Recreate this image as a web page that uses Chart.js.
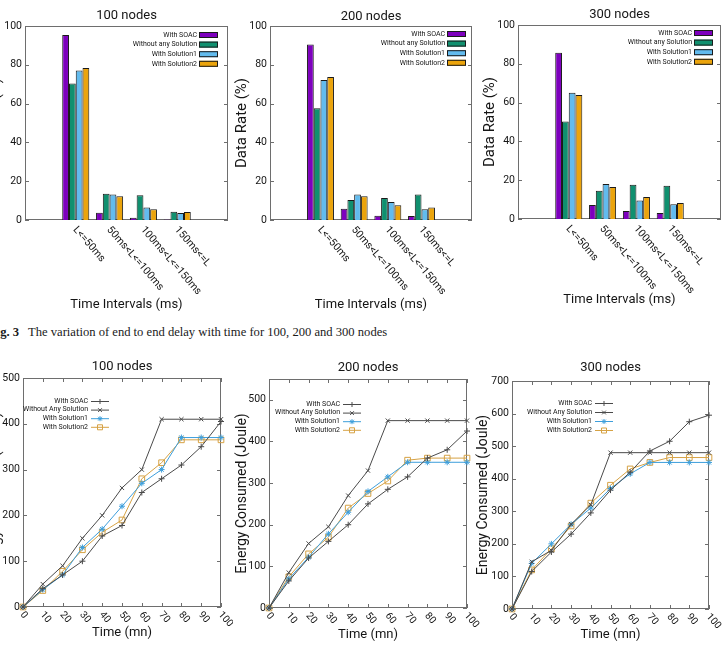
<!DOCTYPE html>
<html>
<head>
<meta charset="utf-8">
<script src="https://cdn.jsdelivr.net/npm/chart.js@4.4.1/dist/chart.umd.min.js"></script>
<style>
  html, body { margin: 0; padding: 0; background: #fff; }
  body { width: 722px; height: 649px; position: relative; overflow: hidden; }
  canvas { position: absolute; }
  .caption { position: absolute; left: -11px; top: 325px; font-family: "Liberation Serif", serif; font-size: 12.6px; color: #1a1a1a; white-space: nowrap; }
  .caption b { margin-right: 6px; }
</style>
</head>
<body>
<div class="caption"><b>Fig. 3</b> The variation of end to end delay with time for 100, 200 and 300 nodes</div>
<script>
// ---- data: delay distribution (bar charts) ----
const intervals = ['L<=50ms', '50ms<L<=100ms', '100ms<L<=150ms', '150ms<=L'];
const barNames = ['With SOAC', 'Without any Solution', 'With Solution1', 'With Solution2'];

const soacBar100 = [95.3, 3.8, 1.2, 0.3];
const noneBar100 = [70.4, 13.5, 12.8, 4.3];
const sol1Bar100 = [77.0, 13.2, 6.5, 3.6];
const sol2Bar100 = [78.4, 12.3, 5.6, 4.1];

const soacBar200 = [90.5, 5.8, 2.2, 2.1];
const noneBar200 = [57.6, 10.3, 11.3, 13.2];
const sol1Bar200 = [72.2, 13.1, 9.3, 5.5];
const sol2Bar200 = [73.7, 12.2, 7.6, 6.5];

const soacBar300 = [85.7, 7.2, 4.1, 3.1];
const noneBar300 = [50.2, 14.6, 17.7, 17.2];
const sol1Bar300 = [65.1, 18.0, 9.5, 7.6];
const sol2Bar300 = [63.9, 16.5, 11.3, 8.2];

// ---- data: energy consumed (line charts) ----
const timeMin = [0, 10, 20, 30, 40, 50, 60, 70, 80, 90, 100];
const lineNames = ['With SOAC', 'Without Any Solution', 'With Solution1', 'With Solution2'];

const soacLine100 = [0, 40, 70, 100, 155, 178, 250, 280, 310, 350, 405];
const noneLine100 = [0, 50, 90, 150, 200, 260, 300, 410, 410, 410, 410];
const sol1Line100 = [0, 38, 70, 130, 170, 220, 270, 300, 370, 370, 370];
const sol2Line100 = [0, 36, 78, 125, 163, 190, 280, 315, 365, 365, 365];

const soacLine200 = [0, 65, 120, 160, 200, 250, 285, 315, 360, 380, 425];
const noneLine200 = [0, 85, 155, 195, 270, 330, 450, 450, 450, 450, 450];
const sol1Line200 = [0, 70, 122, 178, 230, 280, 315, 350, 350, 350, 350];
const sol2Line200 = [0, 75, 130, 170, 240, 275, 305, 355, 360, 360, 360];

const soacLine300 = [0, 115, 175, 230, 295, 365, 420, 485, 515, 575, 595];
const noneLine300 = [0, 145, 180, 260, 320, 480, 480, 480, 480, 480, 480];
const sol1Line300 = [0, 140, 200, 260, 310, 370, 415, 450, 450, 450, 450];
const sol2Line300 = [0, 120, 185, 255, 325, 380, 430, 450, 465, 465, 465];

const barColors = ['#7d00bd', '#10906f', '#62bbee', '#eba40c'];
const lineColors = ['#4a4a4a', '#4a4a4a', '#3d9edb', '#d6a244'];
const lineMarkers = ['cross', 'crossRot', 'star', 'rect'];
const FONT = 'Roboto';
const INK = '#151515';

function drawMarker(ctx, style, x, y, r) {
  ctx.beginPath();
  if (style === 'cross' || style === 'star') {
    ctx.moveTo(x - r, y); ctx.lineTo(x + r, y);
    ctx.moveTo(x, y - r); ctx.lineTo(x, y + r);
  }
  if (style === 'crossRot' || style === 'star') {
    const d = r * 0.75;
    ctx.moveTo(x - d, y - d); ctx.lineTo(x + d, y + d);
    ctx.moveTo(x - d, y + d); ctx.lineTo(x + d, y - d);
  }
  if (style === 'rect') ctx.rect(x - r, y - r, 2 * r, 2 * r);
  ctx.stroke();
}

// frame, inward ticks, title, slanted x labels and legend
function deco(meta) {
  return {
    id: 'deco',
    beforeDatasetsDraw(chart) {
      const { ctx, chartArea: a, scales } = chart;
      ctx.save();
      ctx.strokeStyle = '#6e6e6e';
      ctx.lineWidth = 1;
      ctx.strokeRect(Math.round(a.left) + 0.5, Math.round(a.top) + 0.5, Math.round(a.width) - 1, Math.round(a.height) - 1);
      ctx.beginPath();
      scales.y.ticks.forEach(t => {
        const py = Math.round(scales.y.getPixelForValue(t.value)) + 0.5;
        ctx.moveTo(a.left, py); ctx.lineTo(a.left + 4, py);
        ctx.moveTo(a.right, py); ctx.lineTo(a.right - 4, py);
      });
      if (meta.kind === 'line') {
        timeMin.forEach(v => {
          const px = Math.round(scales.x.getPixelForValue(v)) + 0.5;
          ctx.moveTo(px, a.bottom); ctx.lineTo(px, a.bottom - 4);
          ctx.moveTo(px, a.top); ctx.lineTo(px, a.top + 4);
        });
      }
      ctx.stroke();
      ctx.restore();
    },
    afterDraw(chart) {
      const { ctx, chartArea: a, scales } = chart;
      ctx.save();
      ctx.fillStyle = INK;
      ctx.font = '13px ' + FONT;
      ctx.textAlign = 'center';
      ctx.textBaseline = 'middle';
      ctx.fillText(meta.title, (a.left + a.right) / 2, meta.titleY - meta.y);

      // slanted tick labels under the x axis
      const xl = meta.kind === 'bar' ? intervals : timeMin.map(String);
      ctx.font = (meta.kind === 'bar' ? '10.5px ' : '10px ') + FONT;
      ctx.textAlign = 'left';
      xl.forEach((lab, i) => {
        const v = meta.kind === 'bar' ? i : timeMin[i];
        const px = scales.x.getPixelForValue(v);
        ctx.save();
        ctx.translate(px - 1, a.bottom + (meta.kind === 'bar' ? 8 : 6));
        ctx.rotate(49 * Math.PI / 180);
        ctx.fillText(lab, 0, 0);
        ctx.restore();
      });

      // legend inside the plot
      const lg = meta.legend;
      ctx.font = '7px ' + FONT;
      ctx.textAlign = 'right';
      chart.data.datasets.forEach((ds, i) => {
        const ly = lg.y - meta.y + i * lg.step;
        const lx = lg.x - meta.x;
        ctx.fillStyle = INK;
        ctx.fillText(ds.label, lx, ly);
        if (meta.kind === 'bar') {
          ctx.fillStyle = ds.backgroundColor;
          ctx.fillRect(lx + 2, ly - 3, 19, 6);
          ctx.strokeStyle = '#1a1a1a';
          ctx.lineWidth = 1;
          ctx.strokeRect(lx + 2.5, ly - 2.5, 18, 5);
        } else {
          ctx.strokeStyle = ds.borderColor;
          ctx.lineWidth = 1;
          ctx.beginPath();
          ctx.moveTo(lx + 3, ly + 0.5); ctx.lineTo(lx + 21, ly + 0.5);
          ctx.stroke();
          drawMarker(ctx, ds.pointStyle, lx + 12, ly + 0.5, 2.5);
        }
      });
      ctx.restore();
    }
  };
}

function makeCanvas(meta) {
  const c = document.createElement('canvas');
  c.width = meta.w;
  c.height = meta.h;
  c.style.left = meta.x + 'px';
  c.style.top = meta.y + 'px';
  document.body.appendChild(c);
  return c;
}

function baseOptions(meta, xScale, yScale) {
  return {
    responsive: false,
    animation: false,
    devicePixelRatio: 1,
    layout: { padding: { top: meta.area.t - meta.y, right: meta.x + meta.w - meta.area.r, left: 0, bottom: 0 } },
    plugins: { legend: { display: false }, tooltip: { enabled: false } },
    scales: {
      x: Object.assign({
        type: 'linear',
        grid: { display: false, drawTicks: false },
        border: { display: false },
        afterFit: s => { s.height = meta.y + meta.h - meta.area.b; }
      }, xScale),
      y: Object.assign({
        min: 0,
        grid: { display: false, drawTicks: false },
        border: { display: false },
        afterFit: s => { s.width = meta.area.l - meta.x; }
      }, yScale)
    }
  };
}

function barChart(meta, series) {
  const canvas = makeCanvas(meta);
  new Chart(canvas, {
    type: 'bar',
    data: {
      datasets: series.map((vals, i) => ({
        label: barNames[i],
        data: vals.map((v, k) => ({ x: k, y: v })),
        backgroundColor: barColors[i],
        borderColor: '#1a1a1a',
        borderWidth: 1,
        categoryPercentage: 0.8,
        barPercentage: 1
      }))
    },
    options: baseOptions(meta,
      {
        min: -1, max: intervals.length,
        ticks: { display: false, stepSize: 1 },
        title: { display: true, text: 'Time Intervals (ms)', color: INK, font: { family: FONT, size: 13 }, padding: 0 }
      },
      {
        max: 100,
        ticks: { stepSize: 20, color: INK, padding: 3, font: { family: FONT, size: 10.5 } },
        title: { display: true, text: 'Data Rate (%)', color: INK, font: { family: FONT, size: 15 }, padding: 0 }
      }),
    plugins: [deco(meta)]
  });
}

function lineChart(meta, series, yMax) {
  const canvas = makeCanvas(meta);
  new Chart(canvas, {
    type: 'line',
    data: {
      datasets: series.map((vals, i) => ({
        label: lineNames[i],
        data: vals.map((v, k) => ({ x: timeMin[k], y: v })),
        borderColor: lineColors[i],
        backgroundColor: 'rgba(0,0,0,0)',
        borderWidth: 1,
        pointStyle: lineMarkers[i],
        pointRadius: lineMarkers[i] === 'rect' ? 4 : 3,
        pointBorderWidth: 1,
        pointBorderColor: lineColors[i],
        pointBackgroundColor: 'rgba(0,0,0,0)',
        tension: 0,
        fill: false,
        clip: false
      }))
    },
    options: baseOptions(meta,
      {
        min: 0, max: 100,
        ticks: { display: false, stepSize: 10 },
        title: { display: true, text: 'Time (mn)', color: INK, font: { family: FONT, size: 13 }, padding: 0 }
      },
      {
        max: yMax,
        ticks: { stepSize: 100, includeBounds: false, color: INK, padding: 3, font: { family: FONT, size: 10.5 } },
        title: { display: true, text: 'Energy Consumed (Joule)', color: INK, font: { family: FONT, size: 14 }, padding: 0 }
      }),
    plugins: [deco(meta)]
  });
}

barChart({ kind: 'bar', title: '100 nodes', titleY: 16, x: -13, y: 0, w: 243, h: 313,
  area: { l: 25, t: 26, r: 228, b: 220 }, legend: { x: 197, y: 35, step: 9.6 } },
  [soacBar100, noneBar100, sol1Bar100, sol2Bar100]);
barChart({ kind: 'bar', title: '200 nodes', titleY: 17, x: 233, y: 0, w: 245, h: 313,
  area: { l: 270, t: 26, r: 472, b: 220 }, legend: { x: 445, y: 34, step: 9.6 } },
  [soacBar200, noneBar200, sol1Bar200, sol2Bar200]);
barChart({ kind: 'bar', title: '300 nodes', titleY: 15, x: 481, y: 0, w: 241, h: 308,
  area: { l: 518, t: 25, r: 721, b: 219 }, legend: { x: 692, y: 33, step: 9.6 } },
  [soacBar300, noneBar300, sol1Bar300, sol2Bar300]);

lineChart({ kind: 'line', title: '100 nodes', titleY: 367, x: -12, y: 355, w: 245, h: 286,
  area: { l: 23, t: 378, r: 221, b: 607 }, legend: { x: 88, y: 401, step: 8.6 } },
  [soacLine100, noneLine100, sol1Line100, sol2Line100], 500);
lineChart({ kind: 'line', title: '200 nodes', titleY: 368, x: 234, y: 355, w: 246, h: 288,
  area: { l: 269, t: 379, r: 467, b: 608 }, legend: { x: 340, y: 404, step: 8.6 } },
  [soacLine200, noneLine200, sol1Line200, sol2Line200], 550);
lineChart({ kind: 'line', title: '300 nodes', titleY: 368, x: 475, y: 355, w: 247, h: 288,
  area: { l: 512, t: 381, r: 709, b: 609 }, legend: { x: 592, y: 403, step: 9 } },
  [soacLine300, noneLine300, sol1Line300, sol2Line300], 700);
</script>
</body>
</html>
